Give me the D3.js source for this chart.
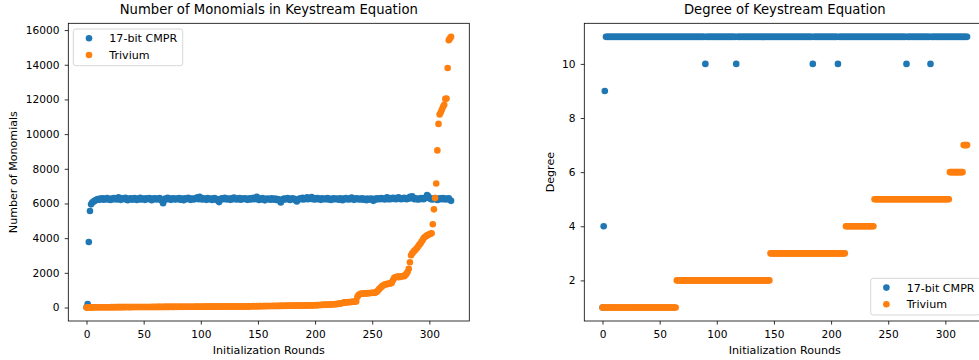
<!DOCTYPE html>
<html><head><meta charset="utf-8">
<script src="https://cdn.jsdelivr.net/npm/d3@7"></script>
<style>body{margin:0;background:#fff}svg text{font-family:"DejaVu Sans",sans-serif;fill:#000}</style>
</head><body><svg id="c" width="979" height="360"></svg>
<script>
const seriesNames = ["17-bit CMPR", "Trivium"];
const seriesColors = ["#1f77b4", "#ff7f0e"];
const xTicks = [0, 50, 100, 150, 200, 250, 300];
const monoTicks = [0, 2000, 4000, 6000, 8000, 10000, 12000, 14000, 16000];
const degTicks = [2, 4, 6, 8, 10];

const cmprMonomials = [
10,200,3780,5570,5950,6050,6100,6150,6180,6230,6260,6210,6280,6240,6300,6220,6270,6250,6310,6230,
6260,6200,6290,6250,6320,6240,6280,6230,6350,6260,6210,6300,6270,6240,6330,6250,6190,6280,6260,6300,
6220,6270,6310,6240,6200,6290,6250,6330,6230,6280,6260,6210,6300,6250,6270,6320,6240,6190,6280,6260,
6300,6230,6270,6250,6310,6220,6150,6020,6200,6280,6250,6330,6240,6290,6210,6270,6300,6250,6230,6280,
6260,6310,6220,6280,6250,6190,6300,6240,6270,6330,6250,6210,6290,6260,6230,6300,6270,6350,6240,6380,
6280,6230,6300,6250,6270,6210,6320,6260,6240,6290,6200,6270,6310,6230,6250,6150,6080,6220,6280,6300,
6250,6330,6270,6230,6290,6260,6210,6300,6250,6340,6270,6230,6290,6250,6310,6220,6270,6260,6300,6240,
6280,6210,6260,6300,6230,6270,6330,6250,6290,6380,6240,6200,6270,6250,6310,6230,6180,6260,6290,6240,
6270,6220,6300,6250,6230,6280,6200,6260,6240,6150,6060,6180,6250,6290,6230,6270,6310,6250,6200,6260,
6300,6240,6270,6180,6120,6210,6260,6300,6250,6330,6230,6280,6260,6350,6240,6290,6270,6370,6250,6300,
6230,6280,6320,6250,6270,6210,6300,6260,6240,6290,6250,6310,6230,6270,6200,6260,6300,6240,6280,6250,
6270,6220,6300,6250,6190,6280,6240,6310,6260,6230,6290,6250,6340,6270,6210,6260,6300,6240,6280,6230,
6260,6300,6220,6270,6250,6190,6280,6240,6230,6290,6260,6150,6250,6280,6230,6300,6270,6240,6320,6260,
6290,6230,6270,6350,6250,6300,6240,6280,6330,6260,6310,6250,6290,6360,6270,6240,6300,6260,6330,6280,
6250,6300,6270,6390,6330,6420,6280,6250,6300,6260,6230,6290,6250,6310,6270,6240,6300,6350,6480,6420,
6300,6270,6230,6290,6250,6310,6260,6200,6280,6240,6300,6250,6320,6270,6230,6290,6260,6300,6200,6150];

const triviumMonomials = [
3,5,6,9,8,11,10,12,14,11,13,15,12,16,14,17,15,13,18,16,
19,17,20,18,22,19,21,24,20,23,22,25,21,24,26,23,27,25,22,26,
28,25,27,30,26,29,31,27,30,28,32,29,33,30,31,34,29,32,35,31,
34,36,32,35,38,34,37,33,39,36,38,35,40,37,41,38,36,42,39,40,
43,39,41,44,40,45,42,46,41,44,47,43,45,48,44,46,49,45,47,50,
48,46,51,47,49,52,48,50,53,49,51,54,50,52,55,51,53,56,52,54,
57,53,55,58,54,56,59,55,57,60,56,58,61,57,59,62,58,60,63,59,
61,64,62,66,70,74,78,72,76,80,75,79,83,77,81,85,79,84,88,82,
86,90,84,89,93,87,91,95,90,94,98,92,97,101,96,104,108,102,106,110,
105,109,113,107,112,116,110,115,119,114,118,122,117,121,126,120,124,129,123,128,
132,138,135,142,148,144,151,157,153,160,168,163,171,178,174,182,190,186,195,203,
210,219,226,240,262,280,295,290,305,312,300,318,325,336,330,345,352,610,720,765,
790,805,798,815,822,810,830,826,840,835,848,852,845,860,905,980,1060,1120,1190,1250,
1280,1330,1360,1345,1380,1370,1400,1420,1560,1690,1740,1760,1780,1750,1790,1770,1800,1820,1810,1880,
1950,2060,2230,2610,3010,3120,3200,3280,3350,3420,3500,3600,3680,3780,3880,3990,4060,4110,4160,4190,
4220,4250,4280,4800,5660,6310,7150,9060,10590,11130,11260,11420,11580,11690,12030,12050,13810,15420,15520,15610];

const cmprDegree = [
1,4,9,11,11,11,11,11,11,11,11,11,11,11,11,11,11,11,11,11,
11,11,11,11,11,11,11,11,11,11,11,11,11,11,11,11,11,11,11,11,
11,11,11,11,11,11,11,11,11,11,11,11,11,11,11,11,11,11,11,11,
11,11,11,11,11,11,11,11,11,11,11,11,11,11,11,11,11,11,11,11,
11,11,11,11,11,11,11,11,11,11,10,11,11,11,11,11,11,11,11,11,
11,11,11,11,11,11,11,11,11,11,11,11,11,11,11,11,11,10,11,11,
11,11,11,11,11,11,11,11,11,11,11,11,11,11,11,11,11,11,11,11,
11,11,11,11,11,11,11,11,11,11,11,11,11,11,11,11,11,11,11,11,
11,11,11,11,11,11,11,11,11,11,11,11,11,11,11,11,11,11,11,11,
11,11,11,11,10,11,11,11,11,11,11,11,11,11,11,11,11,11,11,11,
11,11,11,11,11,11,10,11,11,11,11,11,11,11,11,11,11,11,11,11,
11,11,11,11,11,11,11,11,11,11,11,11,11,11,11,11,11,11,11,11,
11,11,11,11,11,11,11,11,11,11,11,11,11,11,11,11,11,11,11,11,
11,11,11,11,11,11,10,11,11,11,11,11,11,11,11,11,11,11,11,11,
11,11,11,11,11,11,11,10,11,11,11,11,11,11,11,11,11,11,11,11,
11,11,11,11,11,11,11,11,11,11,11,11,11,11,11,11,11,11,11,11];

const triviumDegree = [
1,1,1,1,1,1,1,1,1,1,1,1,1,1,1,1,1,1,1,1,
1,1,1,1,1,1,1,1,1,1,1,1,1,1,1,1,1,1,1,1,
1,1,1,1,1,1,1,1,1,1,1,1,1,1,1,1,1,1,1,1,
1,1,1,1,1,2,2,2,2,2,2,2,2,2,2,2,2,2,2,2,
2,2,2,2,2,2,2,2,2,2,2,2,2,2,2,2,2,2,2,2,
2,2,2,2,2,2,2,2,2,2,2,2,2,2,2,2,2,2,2,2,
2,2,2,2,2,2,2,2,2,2,2,2,2,2,2,2,2,2,2,2,
2,2,2,2,2,2,2,3,3,3,3,3,3,3,3,3,3,3,3,3,
3,3,3,3,3,3,3,3,3,3,3,3,3,3,3,3,3,3,3,3,
3,3,3,3,3,3,3,3,3,3,3,3,3,3,3,3,3,3,3,3,
3,3,3,3,3,3,3,3,3,3,3,3,3,4,4,4,4,4,4,4,
4,4,4,4,4,4,4,4,4,4,4,4,4,4,4,4,4,4,5,5,
5,5,5,5,5,5,5,5,5,5,5,5,5,5,5,5,5,5,5,5,
5,5,5,5,5,5,5,5,5,5,5,5,5,5,5,5,5,5,5,5,
5,5,5,5,5,5,5,5,5,5,5,5,5,5,5,5,5,5,5,5,
5,5,5,5,6,6,6,6,6,6,6,6,6,6,6,6,7,7,7,7];

const rounds = d3.range(cmprMonomials.length);

const svg = d3.select("#c");
svg.append("rect").attr("width", 979).attr("height", 360).attr("fill", "#fff");

function pad(ext) {
  const r = ext[1] - ext[0];
  return [ext[0] - 0.05 * r, ext[1] + 0.05 * r];
}

function panel(cfg) {
  const {x0, x1, y0, y1, series, yTicks, title, ylabel, ylabelX, legendX, legendY} = cfg;
  const g = svg.append("g");
  const x = d3.scaleLinear().domain(pad(d3.extent(rounds))).range([x0, x1]);
  const allY = series.flat();
  const y = d3.scaleLinear().domain(pad(d3.extent(allY))).range([y1, y0]);

  series.forEach((vals, si) => {
    g.append("g").selectAll("circle").data(vals).join("circle")
      .attr("cx", (d, i) => x(rounds[i]))
      .attr("cy", d => y(d))
      .attr("r", 3.3)
      .attr("fill", seriesColors[si]);
  });

  const xa = g.append("g").attr("transform", `translate(0,${y1})`)
    .call(d3.axisBottom(x).tickValues(xTicks).tickSize(3.6).tickPadding(5.4).tickFormat(d3.format("d")));
  const ya = g.append("g").attr("transform", `translate(${x0},0)`)
    .call(d3.axisLeft(y).tickValues(yTicks).tickSize(3.6).tickPadding(5.2).tickFormat(d3.format("d")));
  [xa, ya].forEach(a => {
    a.select(".domain").remove();
    a.selectAll("line").attr("stroke", "#000").attr("stroke-width", 0.8);
    a.selectAll("text").attr("font-size", 10.6).attr("font-family", "DejaVu Sans").attr("fill", "#000");
    a.attr("font-family", null).attr("font-size", null);
  });

  g.append("rect").attr("x", x0).attr("y", y0).attr("width", x1 - x0).attr("height", y1 - y0)
    .attr("fill", "none").attr("stroke", "#000").attr("stroke-width", 0.8);

  g.append("text").attr("x", (x0 + x1) / 2).attr("y", 14.4).attr("text-anchor", "middle")
    .attr("font-size", 13.2).text(title);
  g.append("text").attr("x", (x0 + x1) / 2).attr("y", 354).attr("text-anchor", "middle")
    .attr("font-size", 11.1).text("Initialization Rounds");
  g.append("text").attr("transform", `translate(${ylabelX},${(y0 + y1) / 2}) rotate(-90)`)
    .attr("text-anchor", "middle").attr("font-size", 11.1).text(ylabel);

  const lg = g.append("g").attr("transform", `translate(${legendX},${legendY})`);
  lg.append("rect").attr("width", 109.4).attr("height", 36.7).attr("rx", 2.5)
    .attr("fill", "#fff").attr("fill-opacity", 0.8).attr("stroke", "#cccccc").attr("stroke-width", 0.8);
  seriesNames.forEach((name, i) => {
    lg.append("circle").attr("cx", 15.7).attr("cy", 9.3 + i * 16.7).attr("r", 3.3).attr("fill", seriesColors[i]);
    lg.append("text").attr("x", 36).attr("y", 9.3 + i * 16.7 + 4).attr("font-size", 11.1).text(name);
  });
}

panel({x0: 68.3, x1: 469.3, y0: 23.3, y1: 321,
  series: [cmprMonomials, triviumMonomials], yTicks: monoTicks,
  title: "Number of Monomials in Keystream Equation", ylabel: "Number of Monomials",
  ylabelX: 17, legendX: 73.3, legendY: 29});

panel({x0: 584.3, x1: 985.3, y0: 23.3, y1: 321,
  series: [cmprDegree, triviumDegree], yTicks: degTicks,
  title: "Degree of Keystream Equation", ylabel: "Degree",
  ylabelX: 553.5, legendX: 870.7, legendY: 278.3});
</script></body></html>
